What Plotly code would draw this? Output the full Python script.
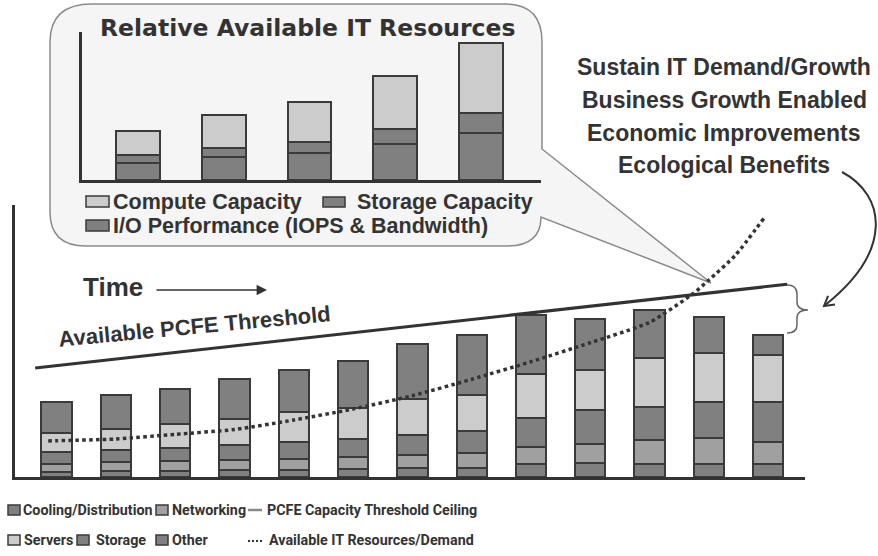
import plotly.graph_objects as go

W, H = 878, 556

# ---------------- main chart data (13 time periods, relative units) ----------------
periods = list(range(13))
other = [5, 6, 6, 6.7, 7.4, 8.4, 9, 9.4, 13.4, 14.4, 13.4, 13.4, 13.4]
networking = [8.4, 9, 10, 10, 11, 11.6, 13.4, 14.6, 16.6, 19, 23.3, 25.6, 21.6]
storage = [11.6, 11.7, 13.4, 15, 16.6, 18.4, 20, 21.7, 29, 33.3, 33.3, 36, 40]
servers = [19.4, 21, 23.3, 26.7, 30, 30.6, 36, 36.7, 43.7, 40.7, 49, 49.4, 47.4]
cooling = [30.6, 34, 35.7, 40, 42.4, 46.7, 55, 60, 59, 50.3, 47.7, 35.6, 20]

threshold_x = [-0.36, 12.32]
threshold_y = [109, 192.7]

demand_x = [-0.14, 0, 1, 2, 3, 4, 5, 6, 7, 8, 9, 10, 10.74, 11, 11.45, 11.93]
demand_y = [36, 36.3, 38, 42.7, 47.5, 57, 68, 81.3, 97.7, 115.3, 134.3, 154.7, 183.7, 197, 222, 259]

main_labels = ["Cooling/Distribution", "Networking", "PCFE Capacity Threshold Ceiling",
               "Servers", "Storage", "Other", "Available IT Resources/Demand"]

# ---------------- inset data ----------------
res_periods = [0, 1, 2, 3, 4]
io_perf = [17.3, 23.3, 27.3, 36, 47.3]
storage_cap = [7.4, 8.7, 11, 15, 19.4]
compute_cap = [24.3, 33, 40, 53, 70.6]
inset_labels = ["Compute Capacity", "Storage Capacity", "I/O Performance (IOPS & Bandwidth)"]

right_lines = ["Sustain IT Demand/Growth", "Business Growth Enabled",
               "Economic Improvements", "Ecological Benefits"]

DARK = "#808080"
MID = "#a0a0a0"
LIGHT = "#cccccc"
EDGE = "#3a3a3a"
TXT = "#333333"


def fx(x):
    return x / W


def fy(y):
    return 1 - y / H


def pt(x, y):
    return f"{x / W:.5f},{1 - y / H:.5f}"


fig = go.Figure()

# main stacked bars
for vals, col in [(other, DARK), (networking, MID), (storage, DARK), (servers, LIGHT), (cooling, DARK)]:
    fig.add_trace(go.Bar(x=periods, y=vals, width=0.51, marker=dict(color=col, line=dict(color=EDGE, width=2)),
                         xaxis="x", yaxis="y", hoverinfo="skip"))

fig.add_trace(go.Scatter(x=threshold_x, y=threshold_y, mode="lines", line=dict(color=TXT, width=3),
                         xaxis="x", yaxis="y", cliponaxis=False, hoverinfo="skip"))
fig.add_trace(go.Scatter(x=demand_x, y=demand_y, mode="lines", line=dict(color=TXT, width=3.5, dash="3.5px,3.3px",
                                                                        shape="spline", smoothing=0.6),
                         xaxis="x", yaxis="y", cliponaxis=False, hoverinfo="skip"))

# inset stacked bars
for vals, col in [(io_perf, DARK), (storage_cap, DARK), (compute_cap, LIGHT)]:
    fig.add_trace(go.Bar(x=res_periods, y=vals, width=0.51, marker=dict(color=col, line=dict(color=EDGE, width=2)),
                         xaxis="x2", yaxis="y2", hoverinfo="skip"))

axis_common = dict(showgrid=False, zeroline=False, showticklabels=False, ticks="", showline=True,
                   linecolor=TXT, fixedrange=True)

shapes = []
# speech bubble
bubble = ("M " + pt(92, 4) + " L " + pt(505, 4) + " Q " + pt(542, 4) + " " + pt(542, 42) +
          " L " + pt(542, 149) + " L " + pt(711, 283) + " L " + pt(541, 217) +
          " Q " + pt(541, 246) + " " + pt(507, 246) + " L " + pt(86, 246) +
          " Q " + pt(50, 246) + " " + pt(50, 212) + " L " + pt(50, 42) +
          " Q " + pt(50, 4) + " " + pt(92, 4) + " Z")
shapes.append(dict(type="path", xref="paper", yref="paper", path=bubble, fillcolor="#f5f5f5",
                   line=dict(color="#8a8a8a", width=1.5), layer="below"))

# brace
brace = ("M " + pt(787, 285) + " Q " + pt(797, 285) + " " + pt(797, 294) + " L " + pt(797, 302) +
         " Q " + pt(797, 310) + " " + pt(808, 310) + " Q " + pt(797, 310) + " " + pt(797, 318) +
         " L " + pt(797, 325) + " Q " + pt(797, 333) + " " + pt(787, 333))
shapes.append(dict(type="path", xref="paper", yref="paper", path=brace, line=dict(color="#666666", width=1.5)))

# curved arrow
curve = "M " + pt(842, 172) + " C " + pt(885, 195) + " " + pt(895, 250) + " " + pt(824, 306)
shapes.append(dict(type="path", xref="paper", yref="paper", path=curve, line=dict(color=TXT, width=2)))
head = "M " + pt(835, 304.4) + " L " + pt(824, 306) + " L " + pt(828.1, 295.8)
shapes.append(dict(type="path", xref="paper", yref="paper", path=head, line=dict(color=TXT, width=2)))


def box(x0, y0, x1, y1, col):
    shapes.append(dict(type="rect", xref="paper", yref="paper", x0=fx(x0), x1=fx(x1), y0=fy(y1), y1=fy(y0),
                       fillcolor=col, line=dict(color=EDGE, width=1.5)))


# inset legend boxes
box(86, 196, 109, 207, LIGHT)
box(323, 197, 345, 207, DARK)
box(86, 220, 109, 231, DARK)

# bottom legend boxes
box(8, 505, 20, 515, DARK)
box(156, 505, 168, 515, MID)
box(8, 535, 20, 545, LIGHT)
box(77, 535, 89, 545, DARK)
box(156, 535, 168, 545, DARK)
shapes.append(dict(type="line", xref="paper", yref="paper", x0=fx(248), x1=fx(262), y0=fy(510), y1=fy(510),
                   line=dict(color="#888888", width=2.5)))
shapes.append(dict(type="line", xref="paper", yref="paper", x0=fx(248), x1=fx(264), y0=fy(541), y1=fy(541),
                   line=dict(color=TXT, width=2, dash="2px,2px")))

ann = []


def text(s, x, y, size, family="Liberation Sans", anchor="center", angle=0, color=TXT):
    ann.append(dict(text=s, x=fx(x), y=fy(y), xref="paper", yref="paper", showarrow=False,
                    xanchor=anchor, yanchor="middle", textangle=angle,
                    font=dict(family=family, size=size, color=color, weight="bold")))


text("Relative Available IT Resources", 307, 28, 23.5, family="DejaVu Sans")
text(inset_labels[0], 111, 201.5, 21.5, anchor="left")
text(inset_labels[1], 355, 201.5, 21.5, anchor="left")
text(inset_labels[2], 111, 225.5, 21.5, anchor="left")

for i, s in enumerate(right_lines):
    text(s, 724, [67, 100, 133, 165][i], 23)

text("Time", 112.5, 287, 26)
text("Available PCFE Threshold", 194, 326, 22, angle=-5.4)

LEG = 14.3
LEGF = "Roboto"
text(main_labels[0], 21, 510, LEG, family=LEGF, anchor="left")
text(main_labels[1], 170, 510, LEG, family=LEGF, anchor="left")
text(main_labels[2], 265, 510, LEG, family=LEGF, anchor="left")
text(main_labels[3], 22, 540, LEG, family=LEGF, anchor="left")
text(main_labels[4], 94, 540, LEG, family=LEGF, anchor="left")
text(main_labels[5], 170, 540, LEG, family=LEGF, anchor="left")
text(main_labels[6], 267, 540, LEG, family=LEGF, anchor="left")

# time arrow
ann.append(dict(text="", x=fx(267), y=fy(290), xref="paper", yref="paper", showarrow=True,
                ax=-112, ay=0, arrowhead=2, arrowsize=1.3, arrowwidth=1.6, arrowcolor=TXT))

fig.update_layout(
    width=W, height=H, margin=dict(l=0, r=0, t=0, b=0),
    paper_bgcolor="white", plot_bgcolor="rgba(0,0,0,0)",
    barmode="stack", showlegend=False,
    xaxis=dict(domain=[15 / W, 805 / W], range=[-0.70, 12.62], anchor="y", linewidth=3, **axis_common),
    yaxis=dict(domain=[1 - 477 / H, 1 - 205 / H], range=[0, 272], anchor="x", linewidth=3, **axis_common),
    xaxis2=dict(domain=[82 / W, 541 / W], range=[-0.653, 4.703], anchor="y2", linewidth=2.5, **axis_common),
    yaxis2=dict(domain=[1 - 180 / H, 1 - 32 / H], range=[0, 148], anchor="x2", linewidth=2.5, **axis_common),
    shapes=shapes, annotations=ann,
)

fig.write_html("out.html", config={"displayModeBar": False},
               post_script="document.body.style.margin='0';document.body.style.overflow='hidden';")
